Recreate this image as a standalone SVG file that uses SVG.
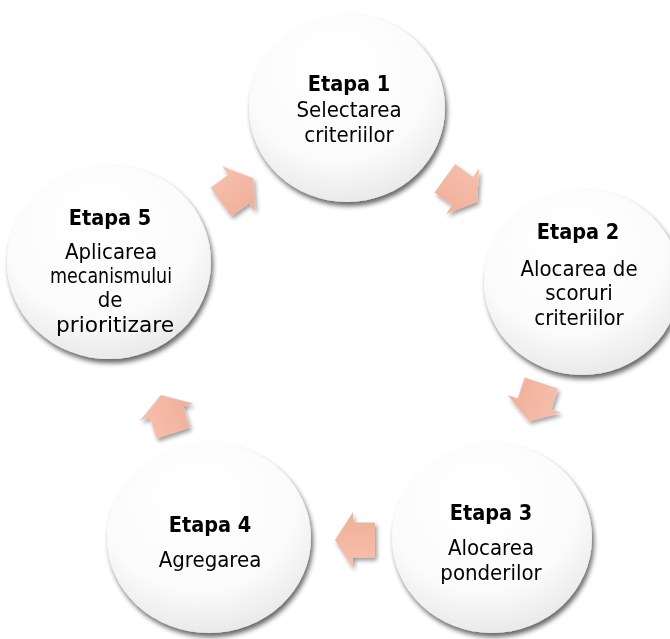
<svg xmlns="http://www.w3.org/2000/svg" xmlns:xlink="http://www.w3.org/1999/xlink" width="670" height="639" viewBox="0 0 670 639">
  <defs>
    <radialGradient id="circFill" cx="0.45" cy="0.3" r="0.8">
      <stop offset="0" stop-color="#ffffff"/>
      <stop offset="0.6" stop-color="#fbfbfb"/>
      <stop offset="1" stop-color="#e2e2e2"/>
    </radialGradient>
    <linearGradient id="arrowFill" x1="0" y1="0" x2="0" y2="1">
      <stop offset="0" stop-color="#f6c0ad"/>
      <stop offset="1" stop-color="#f0af99"/>
    </linearGradient>
    <filter id="shadow" x="-20%" y="-20%" width="140%" height="140%">
      <feGaussianBlur in="SourceAlpha" stdDeviation="2.5"/>
      <feOffset dx="2" dy="4" result="b"/>
      <feComponentTransfer><feFuncA type="linear" slope="0.6"/></feComponentTransfer>
      <feMerge><feMergeNode/><feMergeNode in="SourceGraphic"/></feMerge>
    </filter>
    <filter id="ashadow" x="-30%" y="-30%" width="160%" height="160%">
      <feGaussianBlur in="SourceAlpha" stdDeviation="2"/>
      <feOffset dx="2" dy="3" result="b"/>
      <feComponentTransfer><feFuncA type="linear" slope="0.4"/></feComponentTransfer>
      <feMerge><feMergeNode/><feMergeNode in="SourceGraphic"/></feMerge>
    </filter>
    <path id="arrow" d="M-20,-17.5 L2,-17.5 L2,-28 L20,0 L2,28 L2,17.5 L-20,17.5 Z"/>
  </defs>
  <style>
    .circle { fill: url(#circFill); filter: url(#shadow); }
    .arr { fill: url(#arrowFill); }
    text { font-family: "DejaVu Sans Condensed", "DejaVu Sans", Verdana, sans-serif; font-size: 22px; fill: #000; text-anchor: middle; }
    .b { font-weight: bold; font-size: 21.5px; }
  </style>
  <rect width="670" height="639" fill="#ffffff"/>

  <g id="connectors" filter="url(#ashadow)">
    <use xlink:href="#arrow" class="arr" transform="translate(461,190) rotate(36)"/>
    <use xlink:href="#arrow" class="arr" transform="translate(535,402) rotate(108)"/>
    <use xlink:href="#arrow" class="arr" transform="translate(355,540) rotate(180)"/>
    <use xlink:href="#arrow" class="arr" transform="translate(167,414) rotate(252)"/>
    <use xlink:href="#arrow" class="arr" transform="translate(237,190) rotate(324)"/>
  </g>

  <g id="node1">
    <ellipse class="circle" cx="347" cy="108" rx="98" ry="94"/>
    <text class="b" x="349" y="91">Etapa 1</text>
    <text x="349" y="117">Selectarea</text>
    <text x="349" y="142">criteriilor</text>
  </g>
  <g id="node2">
    <ellipse class="circle" cx="582" cy="282" rx="98" ry="93"/>
    <text class="b" x="578" y="239">Etapa 2</text>
    <text x="579" y="276">Alocarea de</text>
    <text x="579" y="300">scoruri</text>
    <text x="579" y="325">criteriilor</text>
  </g>
  <g id="node3">
    <ellipse class="circle" cx="492" cy="538" rx="100" ry="95"/>
    <text class="b" x="491" y="520">Etapa 3</text>
    <text x="491" y="555">Alocarea</text>
    <text x="491" y="580">ponderilor</text>
  </g>
  <g id="node4">
    <ellipse class="circle" cx="209" cy="538" rx="102" ry="95"/>
    <text class="b" x="210" y="532">Etapa 4</text>
    <text x="210" y="567">Agregarea</text>
  </g>
  <g id="node5">
    <ellipse class="circle" cx="109" cy="262" rx="102" ry="97"/>
    <text class="b" x="110" y="225">Etapa 5</text>
    <text x="111" y="259">Aplicarea</text>
    <text x="111" y="283" style="font-size:21px" textLength="122" lengthAdjust="spacingAndGlyphs">mecanismului</text>
    <text x="110" y="307">de</text>
    <text x="115" y="332" textLength="118" lengthAdjust="spacingAndGlyphs">prioritizare</text>
  </g>
</svg>
